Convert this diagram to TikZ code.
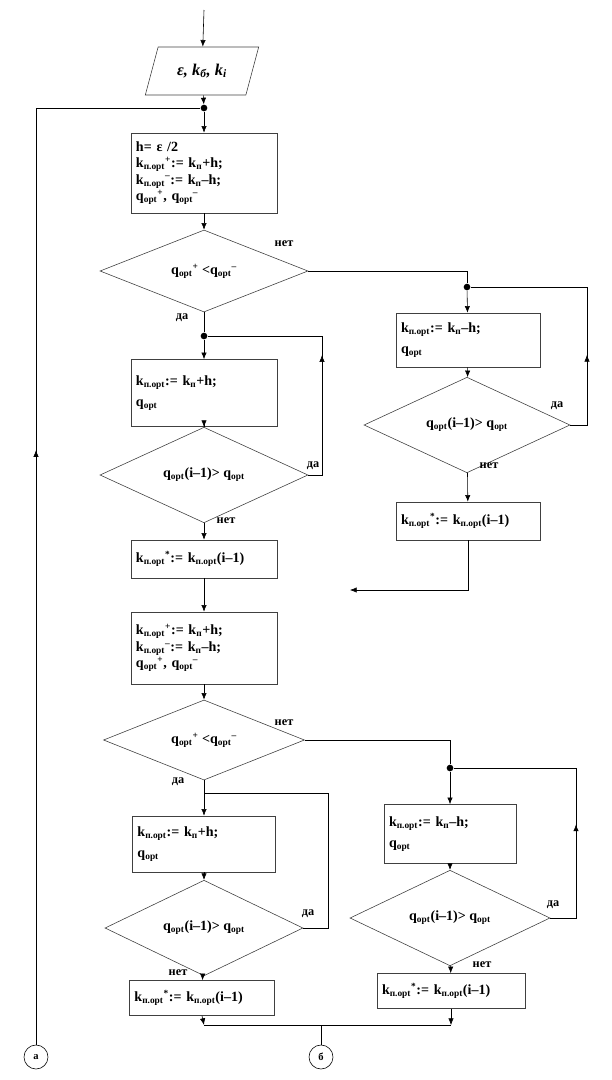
\documentclass[tikz,border=0pt]{standalone}
\usepackage{amsmath}
\usepackage{fontspec}
\setmainfont{Liberation Serif}
\usetikzlibrary{arrows.meta, positioning, shapes.geometric, decorations.markings, calc}

% sub- and superscripts in text
\newcommand{\sbs}[1]{$_{\text{#1}}$}
\newcommand{\sbp}[2]{$_{\text{#1}}{}^{\text{#2}}$}

\tikzset{
  flow/.style={-{Latex[length=2mm,width=1.6mm]}},
  midarrow/.style={postaction={decorate},
    decoration={markings, mark=at position #1 with {\arrow{Latex[length=2mm,width=1.6mm]}}}},
  procbox/.style={draw=black!75, rectangle, align=left, inner xsep=0.15cm, inner ysep=0pt,
    font=\bfseries\fontsize{12}{14}\selectfont},
  testbox/.style={draw=black!75, diamond, inner sep=0pt, align=center,
    font=\bfseries\fontsize{12}{14}\selectfont},
  junction/.style={circle, fill, inner sep=0pt, minimum size=0.2cm},
  pageref/.style={draw, circle, inner sep=0pt, minimum size=0.72cm, font=\bfseries\small},
  lbl/.style={font=\bfseries\fontsize{10.5}{12}\selectfont, inner sep=1pt}
}

\begin{document}
\begin{tikzpicture}[x=0.03cm,y=-0.03cm, line width=0.5pt]
  \useasboundingbox (0,0) rectangle (612,1080);

  % input
  \coordinate (start) at (204,10);
  \node[draw=black!75, trapezium, trapezium left angle=69, trapezium right angle=111,
        trapezium stretches=true, minimum width=3.42cm, minimum height=1.44cm,
        font=\bfseries\itshape\fontsize{14}{16}\selectfont] (inp) at (202,71) {ε, k\sbs{б}, k\sbs{i}};
  \node[junction] (j0) at (204,108) {};

  % first step
  \node[procbox, text width=4.08cm, minimum height=2.4cm] (b1) at (204,173)
    {h= ε /2\\ k\sbp{п.opt}{+}:= k\sbs{п}+h;\\ k\sbp{п.opt}{--}:= k\sbs{п}--h;\\ q\sbp{opt}{+}, q\sbp{opt}{--}};
  \node[testbox, minimum width=6.24cm, minimum height=2.46cm] (d1) at (204,271)
    {q\sbp{opt}{+} <q\sbp{opt}{--}};
  \node[lbl] (d1no) at (284,244) {нет};
  \node[lbl] (d1yes) at (182,318) {да};

  % left branch, upper
  \node[junction] (jl1) at (204,336) {};
  \node[procbox, text width=4.08cm, minimum height=2.01cm] (l1) at (204,393)
    {k\sbs{п.opt}:= k\sbs{п}+h;\\[4pt] q\sbs{opt}};
  \node[testbox, minimum width=6.24cm, minimum height=2.52cm] (dl) at (204,475)
    {q\sbs{opt}(i--1)> q\sbs{opt}};
  \node[lbl] (dlyes) at (313,466) {да};
  \node[lbl] (dlno) at (226,521) {нет};
  \node[procbox, text width=4.08cm, minimum height=1.14cm] (l2) at (204,559)
    {k\sbp{п.opt}{*}:= k\sbs{п.opt}(i--1)};
  \coordinate (cL) at (322,336);

  % right branch, upper
  \node[junction] (jr1) at (467,287) {};
  \node[procbox, text width=4.02cm, minimum height=1.62cm] (r1) at (468,340)
    {k\sbs{п.opt}:= k\sbs{п}--h;\\[4pt] q\sbs{opt}};
  \node[testbox, minimum width=6.18cm, minimum height=2.43cm] (dr) at (467,425)
    {q\sbs{opt}(i--1)> q\sbs{opt}};
  \node[lbl] (dryes) at (557,406) {да};
  \node[lbl] (drno) at (489,466) {нет};
  \node[procbox, text width=4.02cm, minimum height=1.14cm] (r2) at (468,521)
    {k\sbp{п.opt}{*}:= k\sbs{п.opt}(i--1)};
  \coordinate (cR) at (587,287);
  \coordinate (outR) at (350,590);

  % second step
  \node[procbox, text width=4.08cm, minimum height=2.16cm] (b3) at (204,648)
    {k\sbp{п.opt}{+}:= k\sbs{п}+h;\\ k\sbp{п.opt}{--}:= k\sbs{п}--h;\\ q\sbp{opt}{+}, q\sbp{opt}{--}};
  \node[testbox, minimum width=6.03cm, minimum height=2.4cm] (d3) at (204,740)
    {q\sbp{opt}{+} <q\sbp{opt}{--}};
  \node[lbl] (d3no) at (284,723) {нет};
  \node[lbl] (d3yes) at (178,782) {да};

  % left branch, lower
  \coordinate (c3) at (204,793);
  \coordinate (cL3) at (328,793);
  \node[procbox, text width=3.99cm, minimum height=1.68cm] (l3) at (204,844)
    {k\sbs{п.opt}:= k\sbs{п}+h;\\[4pt] q\sbs{opt}};
  \node[testbox, minimum width=5.94cm, minimum height=2.49cm] (dl4) at (204,928)
    {q\sbs{opt}(i--1)> q\sbs{opt}};
  \node[lbl] (dl4yes) at (308,914) {да};
  \node[lbl] (dl4no) at (178,973) {нет};
  \node[procbox, text width=4.05cm, minimum height=1.05cm] (l4) at (202,998)
    {k\sbp{п.opt}{*}:= k\sbs{п.opt}(i--1)};

  % right branch, lower
  \node[junction] (jr3) at (450,768) {};
  \node[procbox, text width=3.66cm, minimum height=1.77cm] (r3) at (450,834)
    {k\sbs{п.opt}:= k\sbs{п}--h;\\[4pt] q\sbs{opt}};
  \node[testbox, minimum width=6.0cm, minimum height=2.43cm] (dr4) at (450,918)
    {q\sbs{opt}(i--1)> q\sbs{opt}};
  \node[lbl] (dr4yes) at (553,905) {да};
  \node[lbl] (dr4no) at (482,965) {нет};
  \node[procbox, text width=4.14cm, minimum height=1.05cm] (r4) at (451,991)
    {k\sbp{п.opt}{*}:= k\sbs{п.opt}(i--1)};
  \coordinate (cR3) at (576,768);

  % exits
  \coordinate (m1) at (204,1025);
  \coordinate (m2) at (451,1025);
  \coordinate (m3) at (321,1025);
  \node[pageref] (ca) at (36,1057) {а};
  \node[pageref] (cb) at (321,1057) {б};

  % connectors
  \draw[flow] (start) -- (inp);
  \draw[flow] (inp) -- (j0);
  \draw[midarrow=0.54] (ca) |- (j0);
  \draw[flow] (j0) -- (b1);
  \draw[flow] (b1) -- (d1);
  \draw (d1.east) -| (jr1);
  \draw (d1) -- (jl1);

  \draw[flow] (jl1) -- (l1);
  \draw[flow] (l1) -- (dl);
  \draw[flow] (dl) -- (l2);
  \draw[midarrow=0.5] (dl.east) -| (cL) -- (jl1);

  \draw[flow] (jr1) -- (r1);
  \draw[flow] (r1) -- (dr);
  \draw[flow] (dr) -- (r2);
  \draw[midarrow=0.32] (dr.east) -| (cR) -- (jr1);
  \draw[flow] (r2.south) |- (outR);

  \draw[flow] (l2) -- (b3);
  \draw[flow] (b3) -- (d3);
  \draw (d3.east) -| (jr3);
  \draw (d3) -- (c3);

  \draw[flow] (c3) -- (l3);
  \draw[flow] (l3) -- (dl4);
  \draw[flow] (dl4) -- (l4);
  \draw (dl4.east) -| (cL3) -- (c3);

  \draw[flow] (jr3) -- (r3);
  \draw[flow] (r3) -- (dr4);
  \draw[flow] (dr4) -- (r4);
  \draw[midarrow=0.40] (dr4.east) -| (cR3) -- (jr3);

  \draw[flow] (l4.south) -- (m1);
  \draw[flow] (r4.south) -- (m2);
  \draw (m1) -- (m2);
  \draw (m3) -- (cb);
\end{tikzpicture}
\end{document}
